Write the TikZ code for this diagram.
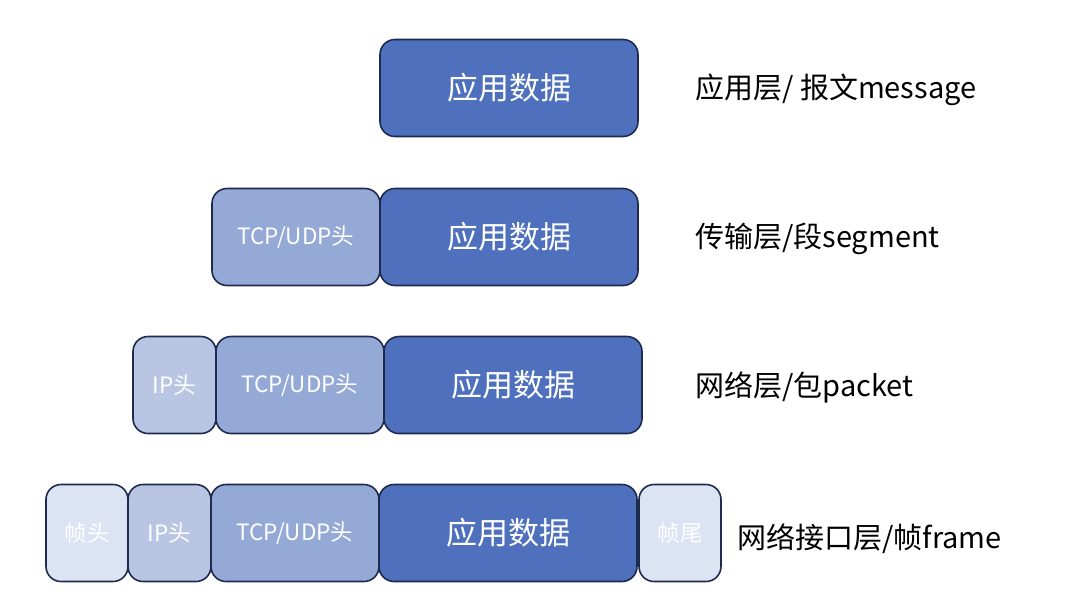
\documentclass[tikz,border=0pt]{standalone}
\usepackage{fontspec}
\newfontfamily\cjk{Noto Sans CJK SC}
\usetikzlibrary{positioning}
\definecolor{appblue}{HTML}{4F70BD}
\definecolor{tcpblue}{HTML}{95A9D7}
\definecolor{ipblue}{HTML}{B8C6E4}
\definecolor{framebg}{HTML}{DCE3F2}
\definecolor{edgenavy}{HTML}{1E2B4F}
\tikzset{
  seg/.style = {rectangle, rounded corners=15pt, draw=edgenavy, line width=1.6pt, text=white, minimum height=97pt, inner sep=0pt, outer sep=0pt, font=\cjk\fontsize{22.5}{26}\selectfont},
  appbox/.style = {seg, fill=appblue, minimum width=258pt, font=\cjk\fontsize{31}{36}\selectfont},
  tcpbox/.style = {seg, fill=tcpblue, minimum width=168pt},
  ipbox/.style = {seg, fill=ipblue, minimum width=83pt},
  framebox/.style = {seg, fill=framebg, minimum width=82pt},
  layer/.style = {anchor=west, inner sep=0pt, font=\cjk\fontsize{29}{34}\selectfont}
}

\begin{document}
\begin{tikzpicture}[x=1pt,y=1pt]
\useasboundingbox (0,0) rectangle (1074,-598);
% application layer
\node [appbox] (app1) at (509,-88) {应用数据};
\node [layer] (lbl1) at (695,-90) {应用层/ 报文message};
% transport layer
\node [appbox] (app2) at (509,-237) {应用数据};
\node [tcpbox, left=0pt of app2] (tcp2) {TCP/UDP头};
\node [layer] (lbl2) at (695,-239) {传输层/段segment};
% network layer
\node [appbox] (app3) at (513,-385) {应用数据};
\node [tcpbox, left=0pt of app3] (tcp3) {TCP/UDP头};
\node [ipbox, left=0pt of tcp3] (ip3) {IP头};
\node [layer] (lbl3) at (695,-387) {网络层/包packet};
% link layer
\node [appbox] (app4) at (508,-533) {应用数据};
\node [tcpbox, left=0pt of app4] (tcp4) {TCP/UDP头};
\node [ipbox, left=0pt of tcp4] (ip4) {IP头};
\node [framebox, left=0pt of ip4] (fh4) {帧头};
\node [framebox, right=2pt of app4] (ft4) {帧尾};
\node [layer] (lbl4) at (737,-539) {网络接口层/帧frame};
\end{tikzpicture}
\end{document}
